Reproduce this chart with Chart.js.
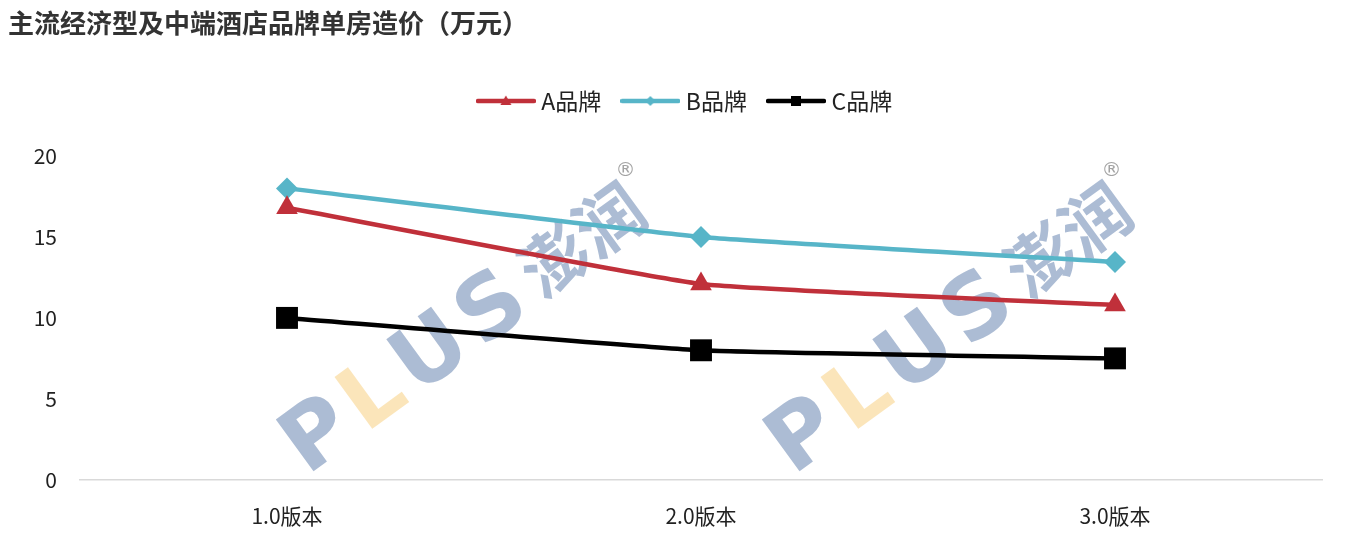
<!DOCTYPE html>
<html><head><meta charset="utf-8">
<script src="https://cdn.jsdelivr.net/npm/chart.js@4.4.0/dist/chart.umd.min.js"></script>
<style>
html,body{margin:0;padding:0;background:#fff;}
#wrap{width:1346px;height:542px;position:relative;}
#title{position:absolute;left:8px;top:7px;font-family:"Noto Sans CJK SC","Noto Sans",sans-serif;font-weight:bold;font-size:26px;line-height:30px;color:#333;white-space:nowrap;}
canvas{position:absolute;left:0;top:0;}
</style>
</head><body><div id="wrap"><canvas id="c" width="1346" height="542"></canvas><div id="title"></div></div>
<script>
const chartTitle = '主流经济型及中端酒店品牌单房造价（万元）';
const categories = ['1.0版本', '2.0版本', '3.0版本'];
const seriesA = [16.8, 12.1, 10.8];
const seriesB = [18.0, 15.0, 13.45];
const seriesC = [10.0, 8.0, 7.5];
const seriesNames = ['A品牌', 'B品牌', 'C品牌'];
const yTicks = [0, 5, 10, 15, 20];

document.getElementById('title').textContent = chartTitle;

const FONT = '"Noto Sans CJK SC", "Noto Sans", sans-serif';
const colors = ['#c0303a', '#57b5c8', '#000000'];
const styles = ['triangle', 'rectRot', 'rect'];
const radii = [12.5, 11, 15.5];

function legendIcon(color, style) {
  const c = document.createElement('canvas');
  c.width = 60; c.height = 14;
  const g = c.getContext('2d');
  g.strokeStyle = color; g.fillStyle = color; g.lineWidth = 4.5; g.lineCap = 'round';
  g.beginPath(); g.moveTo(2, 7); g.lineTo(58, 7); g.stroke();
  g.beginPath();
  if (style === 'triangle') { g.moveTo(30, 1.5); g.lineTo(35.5, 11); g.lineTo(24.5, 11); g.closePath(); }
  else if (style === 'rectRot') { g.moveTo(30, 2); g.lineTo(35, 7); g.lineTo(30, 12); g.lineTo(25, 7); g.closePath(); }
  else { g.rect(25, 2, 10, 10); }
  g.fill();
  return c;
}
const icons = [0,1,2].map(i => legendIcon(colors[i], styles[i]));

const spacer = {
  id: 'spacer',
  beforeInit(chart) {
    const box = {
      position: 'top', weight: 500, fullSize: true, z: 0, options: {},
      top: 0, left: 0, bottom: 0, right: 0, width: 0, height: 0,
      update(maxW) { this.width = maxW; this.height = 33.5; },
      isHorizontal() { return true; },
      getPadding() { return { left: 0, right: 0, top: 0, bottom: 0 }; },
      draw() {}
    };
    Chart.layouts.addBox(chart, box);
  },
  afterLayout(chart) {
    if (chart.legend) { chart.legend.left += 22; chart.legend.right += 22; }
  }
};

const watermark = {
  id: 'watermark',
  beforeDatasetsDraw(chart) {
    const ctx = chart.ctx;
    const a = -36 * Math.PI / 180;
    const spots = [[307, 476], [793, 476]];
    spots.forEach(([x, y]) => {
      ctx.save();
      ctx.translate(x, y);
      ctx.rotate(a);
      ctx.textBaseline = 'alphabetic';
      ctx.font = 'bold 88px "DejaVu Sans", sans-serif';
      const letters = ['P', 'L', 'U', 'S'];
      let px = 0;
      letters.forEach(l => {
        ctx.fillStyle = l === 'L' ? 'rgba(251,226,178,0.9)' : 'rgba(163,181,207,0.9)';
        ctx.fillText(l, px, 0);
        px += ctx.measureText(l).width + 8;
      });
      px += 6;
      ctx.font = 'bold 68px "Noto Sans CJK SC", sans-serif';
      ctx.fillStyle = 'rgba(163,181,207,0.9)';
      ctx.fillText('澎润', px, -4);
      const w = ctx.measureText('澎润').width;
      ctx.restore();
      ctx.save();
      const along = px + w + 8, perp = -60;
      const ex = x + Math.cos(a) * along - Math.sin(a) * perp;
      const ey = y + Math.sin(a) * along + Math.cos(a) * perp;
      ctx.font = '20px "DejaVu Sans", sans-serif';
      ctx.fillStyle = 'rgba(140,140,140,0.8)';
      ctx.textAlign = 'center'; ctx.textBaseline = 'middle';
      ctx.fillText('®', ex, ey);
      ctx.restore();
    });
  }
};

const mk = (i, data) => ({
  label: seriesNames[i], data,
  borderColor: colors[i], backgroundColor: colors[i],
  borderWidth: 4.5, pointStyle: styles[i], pointRadius: radii[i], pointHoverRadius: radii[i],
  pointBorderWidth: 0, tension: 0.12, clip: false
});

new Chart(document.getElementById('c'), {
  type: 'line',
  data: { labels: categories, datasets: [mk(0, seriesA), mk(1, seriesB), mk(2, seriesC)] },
  plugins: [watermark, spacer],
  options: {
    responsive: false, animation: false, devicePixelRatio: 1,
    layout: { padding: { left: 8, right: 24, top: 64.5, bottom: -11 } },
    plugins: {
      title: { display: false },
      legend: {
        display: true, position: 'top',
        labels: {
          usePointStyle: true, pointStyleWidth: 48, padding: 25,
          color: '#222', font: { family: FONT, size: 23 },
          generateLabels: (chart) => chart.data.datasets.map((d, i) => ({
            text: d.label, pointStyle: icons[i], fillStyle: colors[i], strokeStyle: colors[i],
            lineWidth: 0, hidden: false, datasetIndex: i, fontColor: '#222'
          }))
        }
      },
      tooltip: { enabled: false }
    },
    scales: {
      x: {
        offset: true,
        grid: { display: false, drawTicks: false },
        border: { display: true, color: '#d9d9d9', width: 1.5 },
        ticks: { color: '#222', font: { family: FONT, size: 21 }, padding: 24 }
      },
      y: {
        min: 0, max: 20,
        afterBuildTicks: (s) => { s.ticks = yTicks.map(v => ({ value: v })); },
        afterFit: (s) => { s.width = 72; },
        grid: { display: false, drawTicks: false },
        border: { display: false },
        ticks: { color: '#222', font: { family: FONT, size: 21 }, padding: 23 }
      }
    }
  }
});
</script>
</body></html>
